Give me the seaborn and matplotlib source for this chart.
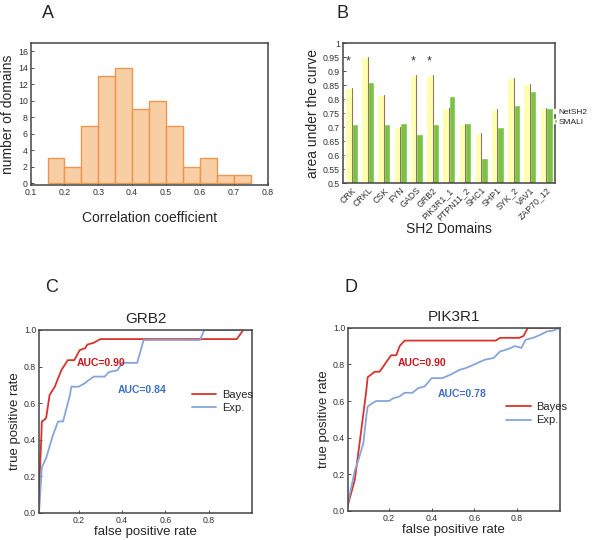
import seaborn as sns
import matplotlib.pyplot as plt
import numpy as np
import pandas as pd

# panel A: histogram of correlation coefficients
bin_edges = [0.15, 0.2, 0.25, 0.3, 0.35, 0.4, 0.45, 0.5, 0.55, 0.6, 0.65, 0.7, 0.75]
bin_counts = [3, 2, 7, 13, 14, 9, 10, 7, 2, 3, 1, 1]

# panel B: AUC per SH2 domain
domains = ['CRK', 'CRKL', 'CSK', 'FYN', 'GADS', 'GRB2', 'PIK3R1_1', 'PTPN11_2',
           'SHC1', 'SHP1', 'SYK_2', 'VAV1', 'ZAP70_12']
auc_netsh2 = [0.84, 0.95, 0.815, 0.70, 0.885, 0.885, 0.77, 0.71, 0.68, 0.765, 0.875, 0.855, 0.77]
auc_smali = [0.71, 0.86, 0.71, 0.715, 0.675, 0.71, 0.81, 0.715, 0.59, 0.70, 0.78, 0.83, 0.77]
star_domains = ['CRK', 'GADS', 'GRB2']

# panel C: GRB2 ROC curves
grb2_bayes_fpr = [0.0, 0.017, 0.02, 0.028, 0.03, 0.043, 0.05, 0.066, 0.09, 0.12, 0.15, 0.18, 0.205, 0.23, 0.24, 0.27, 0.30, 0.93, 0.96, 1.0]
grb2_bayes_tpr = [0.0, 0.0, 0.2, 0.42, 0.5, 0.51, 0.52, 0.645, 0.69, 0.78, 0.835, 0.835, 0.89, 0.9, 0.92, 0.93, 0.95, 0.95, 1.0, 1.0]
grb2_exp_fpr = [0.0, 0.017, 0.03, 0.05, 0.08, 0.105, 0.128, 0.16, 0.166, 0.2, 0.23, 0.24, 0.27, 0.32, 0.34, 0.38, 0.40, 0.47, 0.50, 0.76, 0.78, 1.0]
grb2_exp_tpr = [0.0, 0.0, 0.25, 0.30, 0.42, 0.5, 0.5, 0.645, 0.69, 0.69, 0.71, 0.72, 0.745, 0.745, 0.77, 0.78, 0.82, 0.82, 0.945, 0.945, 1.0, 1.0]

# panel D: PIK3R1 ROC curves
pik_bayes_fpr = [0.0, 0.04, 0.07, 0.094, 0.10, 0.117, 0.133, 0.156, 0.18, 0.21, 0.234, 0.25, 0.273, 0.70, 0.72, 0.81, 0.83, 0.85, 1.0]
pik_bayes_tpr = [0.0, 0.17, 0.44, 0.66, 0.73, 0.745, 0.76, 0.76, 0.80, 0.85, 0.85, 0.90, 0.93, 0.93, 0.945, 0.945, 0.955, 1.0, 1.0]
pik_exp_fpr = [0.0, 0.04, 0.06, 0.08, 0.094, 0.10, 0.125, 0.14, 0.2, 0.22, 0.25, 0.273, 0.31, 0.336, 0.367, 0.40, 0.45,
               0.49, 0.53, 0.56, 0.60, 0.65, 0.69, 0.72, 0.76, 0.79, 0.82, 0.84, 0.875, 0.906, 0.94, 0.97, 1.0]
pik_exp_tpr = [0.0, 0.22, 0.29, 0.37, 0.52, 0.57, 0.59, 0.60, 0.60, 0.615, 0.625, 0.645, 0.645, 0.67, 0.68, 0.725, 0.725,
               0.745, 0.77, 0.78, 0.80, 0.826, 0.835, 0.87, 0.885, 0.90, 0.89, 0.935, 0.945, 0.96, 0.98, 0.985, 1.0]

sns.set_style('white')
plt.rcParams['font.family'] = ['Liberation Sans', 'DejaVu Sans']

red = '#D8332C'
blue = '#85A5DC'

fig = plt.figure(figsize=(6, 5.4), dpi=100)

def style_axes(ax, ticksize=6.3):
    for s in ax.spines.values():
        s.set_color('#444444')
        s.set_linewidth(1.1)
    ax.tick_params(labelsize=ticksize, colors='#333333', direction='in', length=2, width=0.6,
                   bottom=True, left=True, pad=2)

# ---------------- A ----------------
axA = fig.add_axes([0.051, 0.657, 0.395, 0.263])
centers = [(a + b) / 2 for a, b in zip(bin_edges[:-1], bin_edges[1:])]
sns.histplot(x=centers, weights=bin_counts, bins=bin_edges, color='#F7C28F', alpha=0.8,
             edgecolor='#EE9650', linewidth=1.0, ax=axA)
axA.set_xlim(0.1, 0.8)
axA.set_ylim(-0.25, 17)
axA.set_xticks(np.arange(0.1, 0.81, 0.1))
axA.set_xticklabels(['0.1', '0.2', '0.3', '0.4', '0.5', '0.6', '0.7', '0.8'])
axA.set_yticks(range(0, 17, 2))
axA.set_xlabel('Correlation coefficient', fontsize=10, labelpad=10)
axA.set_ylabel('number of domains', fontsize=10, labelpad=2)
style_axes(axA)
fig.text(0.07, 0.975, 'A', fontsize=13, va='center')

# ---------------- B ----------------
axB = fig.add_axes([0.571, 0.661, 0.354, 0.259])
dfB = pd.DataFrame({
    'domain': domains * 2,
    'auc': auc_netsh2 + auc_smali,
    'method': ['NetSH2'] * len(domains) + ['SMALI'] * len(domains),
})
sns.barplot(data=dfB, x='domain', y='auc', hue='method',
            palette={'NetSH2': '#FFFFAE', 'SMALI': '#7CC242'},
            width=0.8, gap=0, ax=axB, saturation=1, legend=True)
# thin dark edge on right side of the yellow bars
for p in axB.patches[:len(domains)]:
    x1 = p.get_x() + p.get_width()
    axB.plot([x1, x1], [0.5, p.get_height()], color='#8a7a5a', lw=0.8)
axB.set_ylim(0.5, 1.0)
axB.set_xlim(-0.55, len(domains) - 0.45)
axB.set_yticks(np.arange(0.5, 1.001, 0.05))
axB.set_yticklabels(['0.5', '0.55', '0.6', '0.65', '0.7', '0.75', '0.8', '0.85', '0.9', '0.95', '1'])
axB.set_xticks(range(len(domains)))
axB.set_xticklabels(domains, rotation=45, ha='right', rotation_mode='anchor', fontsize=6.5)
for d in star_domains:
    i = domains.index(d)
    axB.text(i - 0.2, 0.935, '*', ha='center', va='center', fontsize=9, color='#333333')
axB.set_xlabel('SH2 Domains', fontsize=10, labelpad=0)
axB.set_ylabel('area under the curve', fontsize=10, labelpad=2)
style_axes(axB)
axB.tick_params(axis='x', length=0)
axB.legend(loc='center left', bbox_to_anchor=(0.99, 0.47), frameon=False, fontsize=6,
           handlelength=0.4, handleheight=0.5, handletextpad=0.15, labelspacing=0.3,
           borderaxespad=0.0, borderpad=0.1)
fig.text(0.56, 0.975, 'B', fontsize=13, va='center')

# ---------------- C and D ----------------
def roc_panel(rect, title, letter, letter_x, bayes, exp, bayes_txt, exp_txt, leg_pos, xmin):
    ax = fig.add_axes(rect)
    sns.lineplot(x=bayes[0], y=bayes[1], color=red, lw=1.3, ax=ax, label='Bayes',
                 estimator=None, sort=False)
    sns.lineplot(x=exp[0], y=exp[1], color=blue, lw=1.3, ax=ax, label='Exp.',
                 estimator=None, sort=False)
    ax.set_xlim(xmin, 1.0)
    ax.set_ylim(0, 1.0)
    ax.set_xticks([0.2, 0.4, 0.6, 0.8])
    ax.set_xticklabels(['0.2', '0.4', '0.6', '0.8'])
    ax.set_yticks(np.arange(0, 1.01, 0.2))
    ax.set_yticklabels(['0.0', '0.2', '0.4', '0.6', '0.8', '1.0'])
    ax.set_xlabel('false positive rate', fontsize=9.5, labelpad=1)
    ax.set_ylabel('true positive rate', fontsize=9.5, labelpad=2)
    ax.set_title(title, fontsize=11, pad=5)
    ax.text(bayes_txt[0], bayes_txt[1], 'AUC=0.90', color='#C8161D', fontsize=7.5,
            fontweight='bold', va='center')
    ax.text(exp_txt[0], exp_txt[1], exp_txt[2], color='#3E6FC2', fontsize=7.5,
            fontweight='bold', va='center')
    style_axes(ax)
    ax.legend(loc='center left', bbox_to_anchor=leg_pos, frameon=False, fontsize=8,
              handlelength=2.2, handletextpad=0.5, labelspacing=0.3)
    fig.text(letter_x, 0.468, letter, fontsize=13, va='center')
    return ax

roc_panel([0.065, 0.05, 0.355, 0.339], 'GRB2', 'C', 0.075,
          (grb2_bayes_fpr, grb2_bayes_tpr), (grb2_exp_fpr, grb2_exp_tpr),
          (0.19, 0.82), (0.38, 0.67, 'AUC=0.84'), (0.67, 0.61), 0.017)
roc_panel([0.58, 0.054, 0.353, 0.339], 'PIK3R1', 'D', 0.575,
          (pik_bayes_fpr, pik_bayes_tpr), (pik_exp_fpr, pik_exp_tpr),
          (0.24, 0.81), (0.43, 0.64, 'AUC=0.78'), (0.70, 0.53), 0.008)

fig.savefig('out.png', dpi=100)
